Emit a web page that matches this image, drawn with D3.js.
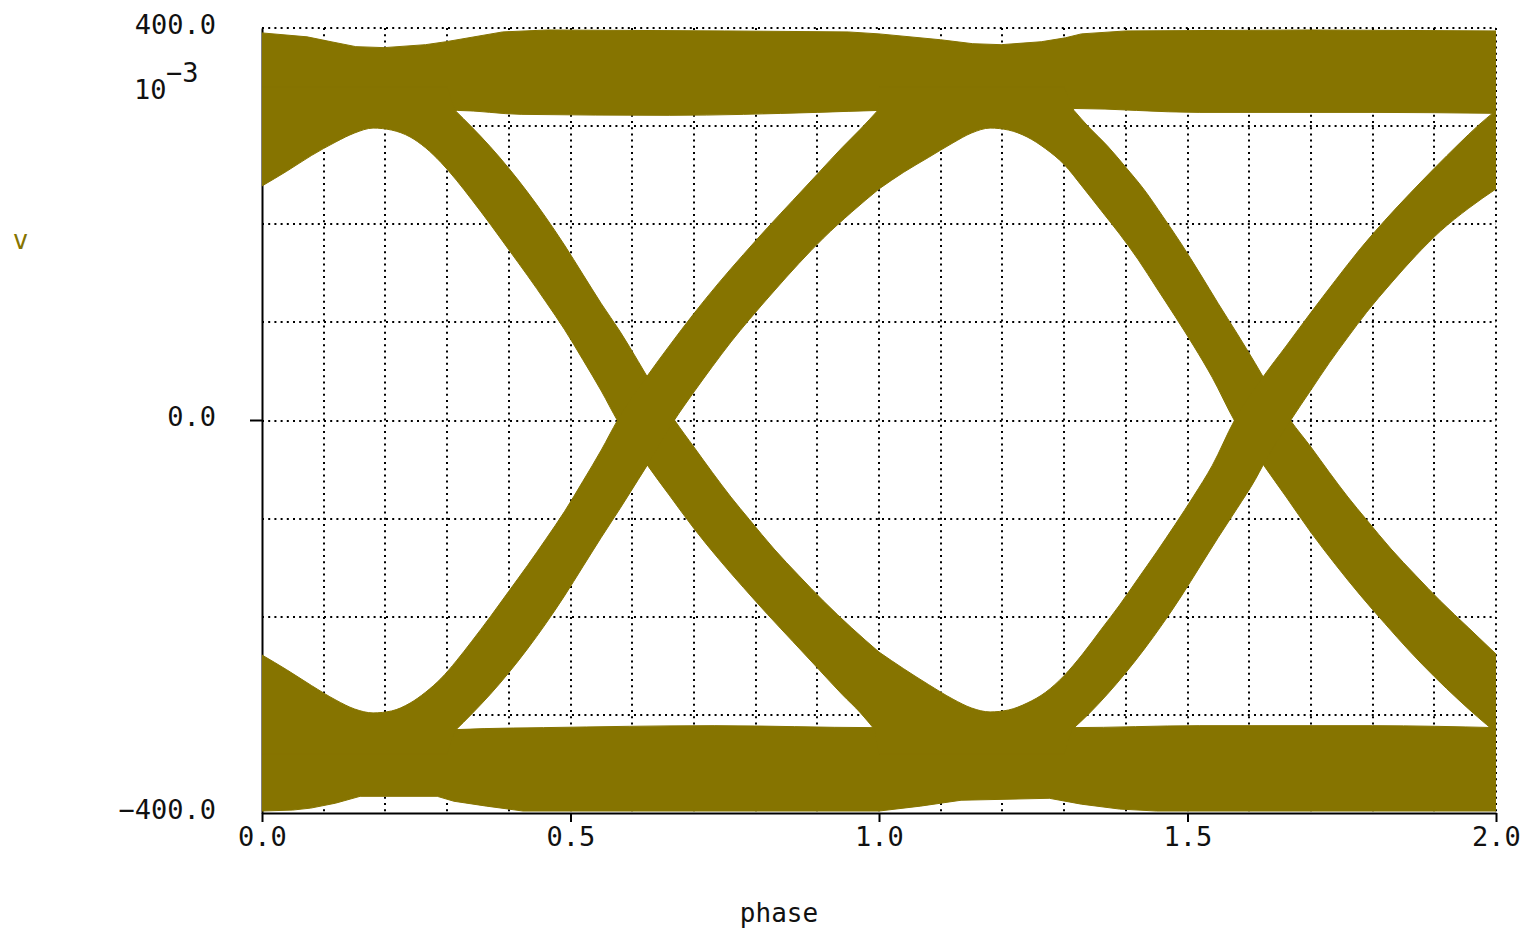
<!DOCTYPE html>
<html>
<head>
<meta charset="utf-8">
<script src="https://cdn.jsdelivr.net/npm/d3@7"></script>
<style>
  html, body { margin: 0; padding: 0; background: #fff; }
  svg { display: block; }
  text { font-family: "DejaVu Sans Mono", monospace; }
</style>
</head>
<body>
<svg id="chart" width="1525" height="933"></svg>
<script>
// axis labels
const phaseTicks = [0, 0.5, 1, 1.5, 2];
const voltTicks = [400, 0, -400];

// eye diagram envelopes, [phase, mV]; points at +-340 sit inside a rail
const topRailHigh = [[0,395],[0.073,391],[0.112,386],[0.152,381],[0.198,380],[0.265,383],[0.298,386],[0.39,396],[0.463,398],[0.75,397],[0.95,396],[1.0,394],[1.1,388],[1.152,384],[1.198,383],[1.263,386],[1.302,390],[1.328,394],[1.4,397],[1.7,398],[2.0,397]];
const topRailLow = [[0,316],[0.317,316],[0.42,312],[0.66,311],[0.9,314],[1.0,316],[1.315,318],[1.52,314],[1.8,314],[2.0,313]];
const botRailHigh = [[0,-316],[0.314,-315],[0.36,-314],[0.456,-313],[0.734,-311],[0.992,-313],[1.312,-313],[1.52,-311],[1.8,-311],[2.0,-313]];
const botRailLow = [[0,-398],[0.05,-397],[0.079,-395],[0.119,-390],[0.159,-383],[0.284,-383],[0.311,-388],[0.364,-393],[0.423,-398],[1.0,-398],[1.067,-393],[1.133,-387],[1.276,-385],[1.328,-391],[1.39,-396],[1.45,-398],[2.0,-398]];

// first crossing (phase ~0.62)
const fall1Lead = [[0,239],[0.04,254],[0.08,270],[0.12,284],[0.15,293],[0.18,298],[0.21,296],[0.24,289],[0.265,278],[0.29,263],[0.315,245],[0.34,225],[0.37,200],[0.40,174],[0.43,148],[0.46,121],[0.49,93],[0.52,62],[0.55,30],[0.576,0],[0.624,-45],[0.66,-76],[0.70,-110],[0.74,-141],[0.78,-170],[0.82,-198],[0.86,-225],[0.90,-252],[0.94,-279],[0.97,-298],[0.993,-315],[1.0,-340]];
const fall1Lag = [[0,340],[0.30,340],[0.313,316],[0.34,299],[0.37,279],[0.40,257],[0.43,233],[0.46,207],[0.49,179],[0.52,149],[0.55,119],[0.58,91],[0.61,60],[0.624,45],[0.669,0],[0.70,-27],[0.73,-53],[0.76,-78],[0.79,-101],[0.83,-131],[0.87,-158],[0.91,-184],[0.955,-211],[1.0,-236]];

const rise1Lead = [[0,-239],[0.04,-254],[0.08,-270],[0.12,-285],[0.15,-294],[0.18,-298],[0.21,-296],[0.24,-288],[0.265,-277],[0.29,-263],[0.315,-245],[0.34,-225],[0.37,-200],[0.40,-174],[0.43,-148],[0.46,-121],[0.49,-93],[0.52,-62],[0.55,-30],[0.576,0],[0.624,45],[0.66,76],[0.70,109],[0.74,140],[0.78,169],[0.82,197],[0.86,224],[0.90,251],[0.94,278],[0.97,297],[0.998,316],[1.0,340]];
const rise1Lag = [[0,-340],[0.30,-340],[0.313,-316],[0.34,-299],[0.37,-279],[0.40,-257],[0.43,-233],[0.46,-207],[0.49,-179],[0.52,-149],[0.55,-119],[0.58,-90],[0.61,-60],[0.624,-46],[0.668,0],[0.70,29],[0.73,55],[0.76,80],[0.79,103],[0.83,132],[0.87,160],[0.91,186],[0.955,212],[1.0,236]];

// second crossing (phase ~1.62)
const fall2Lead = [[1.0,236],[1.04,253],[1.08,268],[1.12,283],[1.15,293],[1.18,298],[1.21,296],[1.24,289],[1.27,277],[1.30,261],[1.33,238],[1.36,214],[1.39,190],[1.42,164],[1.45,135],[1.48,106],[1.51,76],[1.54,44],[1.576,0],[1.624,-46],[1.66,-78],[1.70,-114],[1.74,-147],[1.78,-178],[1.82,-207],[1.86,-235],[1.90,-261],[1.94,-285],[1.97,-302],[2.0,-318],[2.0,-340]];
const fall2Lag = [[1.0,340],[1.30,340],[1.316,316],[1.34,299],[1.37,280],[1.40,258],[1.43,235],[1.46,208],[1.49,180],[1.52,150],[1.55,119],[1.58,89],[1.61,58],[1.623,44],[1.667,0],[1.70,-27],[1.73,-53],[1.76,-78],[1.79,-101],[1.83,-131],[1.87,-158],[1.91,-184],[1.955,-211],[2.0,-238]];

const rise2Lead = [[1.0,-236],[1.04,-253],[1.08,-269],[1.12,-284],[1.15,-293],[1.18,-297],[1.21,-295],[1.24,-288],[1.27,-277],[1.30,-260],[1.33,-238],[1.36,-213],[1.39,-188],[1.42,-161],[1.45,-134],[1.48,-106],[1.51,-77],[1.54,-46],[1.576,0],[1.622,44],[1.66,76],[1.70,110],[1.74,143],[1.78,175],[1.82,204],[1.86,231],[1.90,257],[1.94,282],[1.97,300],[2.0,316],[2.0,340]];
const rise2Lag = [[1.0,-340],[1.30,-340],[1.313,-315],[1.34,-299],[1.37,-279],[1.40,-257],[1.43,-233],[1.46,-207],[1.49,-179],[1.52,-149],[1.55,-119],[1.58,-90],[1.61,-60],[1.622,-46],[1.667,0],[1.70,31],[1.73,59],[1.76,85],[1.79,110],[1.83,140],[1.87,168],[1.91,193],[1.955,216],[2.0,236]];

const olive = "#867400";

const svg = d3.select("#chart");
const x = d3.scaleLinear().domain([0, 2]).range([262, 1496]);
const y = d3.scaleLinear().domain([-400, 400]).range([813, 28]);

svg.append("clipPath").attr("id", "plot-clip")
    .append("rect")
    .attr("x", x(0)).attr("y", y(400))
    .attr("width", x(2) - x(0)).attr("height", y(-400) - y(400));

// dotted grid, snapped to whole pixels so the dots stay dark
const grid = svg.append("g").attr("stroke", "#000").attr("stroke-width", 2)
    .attr("stroke-dasharray", "2,4.2");
grid.selectAll(".gx").data(x.ticks(20).filter(d => d > 0)).join("line")
    .attr("x1", d => Math.round(x(d))).attr("x2", d => Math.round(x(d)))
    .attr("y1", y(400)).attr("y2", y(-400));
grid.selectAll(".gy").data(y.ticks(8).filter(d => d > -400)).join("line")
    .attr("x1", x(0)).attr("x2", x(2))
    .attr("y1", d => Math.round(y(d))).attr("y2", d => Math.round(y(d)));

// axes
const fmt = d3.format(".1f");
const xAxis = svg.append("g")
    .attr("transform", `translate(0,${y(-400)})`)
    .call(d3.axisBottom(x).tickValues(phaseTicks).tickSize(9).tickSizeOuter(0).tickPadding(5).tickFormat(fmt));
const yAxis = svg.append("g")
    .attr("transform", `translate(${x(0)},0)`)
    .call(d3.axisLeft(y).tickValues(voltTicks).tickSize(0).tickSizeOuter(0).tickPadding(46).tickFormat(fmt));
yAxis.selectAll("text").attr("dy", "0.2em");
[xAxis, yAxis].forEach(g => {
    g.select(".domain").attr("stroke", "#000").attr("stroke-width", 2);
    g.selectAll(".tick line").attr("stroke", "#000").attr("stroke-width", 2);
    g.selectAll("text").attr("font-family", "DejaVu Sans Mono").attr("font-size", 27).attr("fill", "#111");
});
yAxis.append("line").attr("x1", -12).attr("x2", 0)
    .attr("y1", y(0)).attr("y2", y(0)).attr("stroke", "#000").attr("stroke-width", 2);

// envelope paths
const smooth = d3.line().x(d => x(d[0])).y(d => y(d[1])).curve(d3.curveMonotoneX);
function trace(pts) {
    // rail points are joined straight, the rest are smoothed
    let d = "", run = [];
    const flush = () => {
        if (run.length > 1) { const s = smooth(run); d += d ? s.replace(/^M/, "L") : s; }
        else if (run.length === 1) { d += (d ? "L" : "M") + x(run[0][0]) + "," + y(run[0][1]); }
        run = [];
    };
    pts.forEach(p => {
        if (Math.abs(p[1]) >= 340) { flush(); d += (d ? "L" : "M") + x(p[0]) + "," + y(p[1]); }
        else run.push(p);
    });
    flush();
    return d;
}
const band = (lead, lag) => trace(lead) + trace(lag.slice().reverse()).replace(/^M/, "L") + "Z";

const bands = [
    [topRailHigh, topRailLow],
    [botRailHigh, botRailLow],
    [fall1Lead, fall1Lag],
    [rise1Lead, rise1Lag],
    [fall2Lead, fall2Lag],
    [rise2Lead, rise2Lag]
];

svg.append("g").attr("clip-path", "url(#plot-clip)")
    .selectAll("path").data(bands).join("path")
    .attr("d", d => band(d[0], d[1]))
    .attr("fill", olive)
    .attr("stroke", olive)
    .attr("stroke-width", 1);

// exponent and titles
svg.append("text").attr("x", 134).attr("y", 99).attr("font-size", 27).attr("fill", "#111").text("10");
svg.append("text").attr("x", 166).attr("y", 82).attr("font-size", 27).attr("fill", "#111").text("\u22123");
svg.append("text").attr("x", 779).attr("y", 922).attr("font-size", 26)
    .attr("text-anchor", "middle").attr("fill", "#111").text("phase");
svg.append("text").attr("x", 20.5).attr("y", 249).attr("font-size", 26)
    .attr("text-anchor", "middle").attr("fill", olive).text("v");
</script>
</body>
</html>
